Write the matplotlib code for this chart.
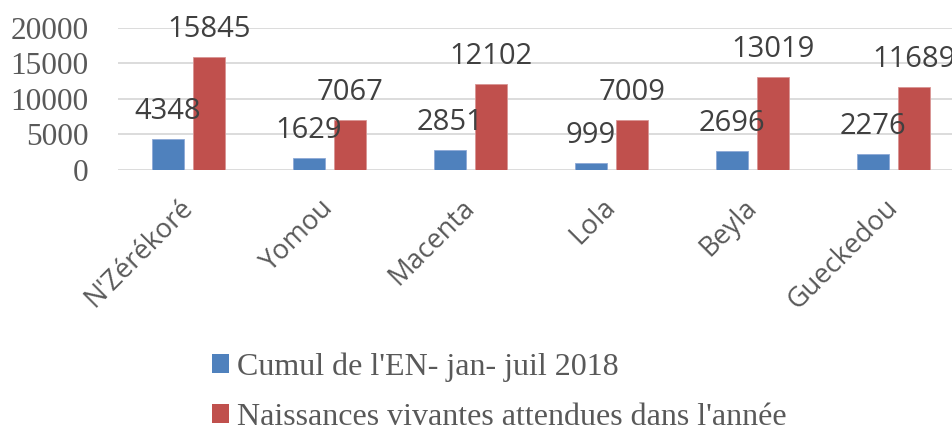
import matplotlib
matplotlib.use("Agg")
import matplotlib.pyplot as plt
from matplotlib.patches import Patch
import numpy as np

categories = ["N'Zérékoré", "Yomou", "Macenta", "Lola", "Beyla", "Gueckedou"]
cumul_en = [4348, 1629, 2851, 999, 2696, 2276]
naissances = [15845, 7067, 12102, 7009, 13019, 11689]
series_names = ["Cumul de l'EN- jan- juil 2018",
                "Naissances vivantes attendues dans l'année"]
yticks = [0, 5000, 10000, 15000, 20000]

W, H = 952, 428
fig = plt.figure(figsize=(W / 100, H / 100), dpi=100)
ax = fig.add_axes([118 / W, 1 - 170 / H, (964 - 118) / W, (170 - 27.7) / H])

blue = "#4F81BD"
red = "#C0504D"
x = np.arange(len(categories))
bw = 0.227
off = 0.145
b1 = ax.bar(x - off, cumul_en, bw, color=blue, edgecolor="#8EA9D6", linewidth=0.6, zorder=3)
b2 = ax.bar(x + off, naissances, bw, color=red, edgecolor="#D99594", linewidth=0.6, zorder=3)

ax.set_xlim(-0.5, len(categories) - 0.5)
ax.set_ylim(0, 20000)
ax.set_yticks(yticks)
ax.set_yticklabels([str(v) for v in yticks], fontfamily="Liberation Serif",
                   fontsize=22.5, color="#595959")
ax.yaxis.grid(True, color="#D9D9D9", linewidth=1.3, zorder=0)
ax.set_axisbelow(True)
for s in ax.spines.values():
    s.set_visible(False)
ax.tick_params(axis="y", length=0, pad=21)
ax.tick_params(axis="x", length=0, pad=24)
ax.set_xticks(x)
ax.set_xticklabels(categories, rotation=45, ha="right", va="center",
                   rotation_mode="anchor", fontfamily="Open Sans",
                   fontsize=19.5, color="#595959")

for bars, vals in ((b1, cumul_en), (b2, naissances)):
    for r, v in zip(bars, vals):
        ax.annotate(str(v), (r.get_x() + r.get_width() / 2, v),
                    xytext=(0, 14.4), textcoords="offset points",
                    ha="center", va="baseline", fontfamily="Open Sans",
                    fontsize=21, color="#404040", annotation_clip=False)

handles = [Patch(facecolor=blue), Patch(facecolor=red)]
fig.legend(handles, series_names, loc="upper left",
           bbox_to_anchor=(212 / W, 1 - 352 / H), frameon=False,
           prop={"family": "Liberation Serif", "size": 23},
           labelcolor="#595959", handlelength=0.53, handleheight=0.53,
           handletextpad=0.25, labelspacing=0.66, borderpad=0, borderaxespad=0)

fig.savefig("out.png", dpi=100)
